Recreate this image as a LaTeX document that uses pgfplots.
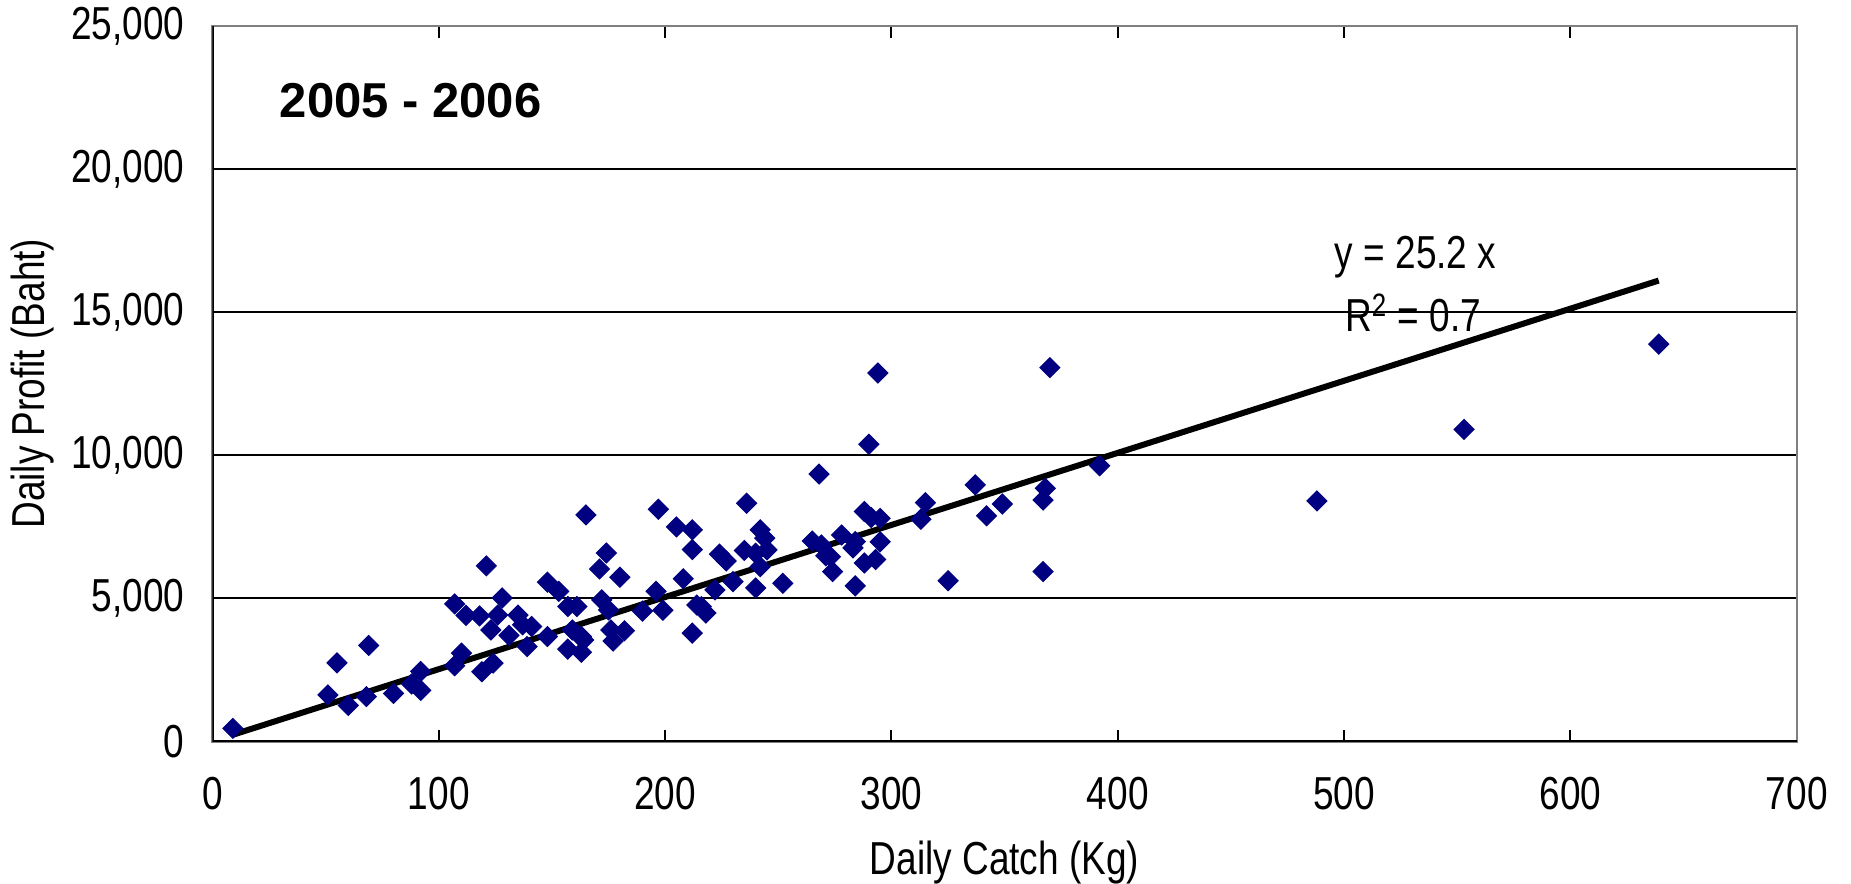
\documentclass[border=0pt]{standalone}
\usepackage{fontspec}
\setmainfont{Liberation Sans}[FakeStretch=0.8]
\newfontfamily\titlefont{Liberation Sans}
\usepackage{pgfplots}
\usepackage{pgfplotstable}
\pgfplotsset{compat=1.18}
\definecolor{navy}{RGB}{0,0,128}
\pgfplotstableread{
x y
9 450
51 1620
55 2740
60 1250
68 1560
69 3350
80 1670
88 2000
92 1780
92 2440
107 4800
107 2640
110 3080
112 4400
118 4380
119 2430
121 6130
123 3890
124 2730
126 4410
128 5010
131 3700
135 4410
137 4070
139 3310
141 4010
148 5560
148 3660
153 5240
157 4710
157 3220
161 4710
159 3890
163 3660
163 3110
164 3540
165 7910
174 6580
171 6020
180 5730
172 4940
175 4590
176 3890
177 3500
182 3860
190 4550
196 5240
197 8110
199 4580
205 7490
208 5680
212 7390
212 6700
212 3780
214 4760
218 4480
216 4705
222 5290
224 6540
227 6300
230 5580
235 6670
236 8320
240 5360
242 7390
244 7100
240 6570
245 6690
242 6100
252 5520
265 7000
268 9340
269 6860
271 6480
273 6450
274 5930
278 7210
283 6760
284 6980
284 5430
288 8030
288 6230
290 10380
291 7820
293 6350
294 12870
295 7790
295 6970
313 7760
315 8340
325 5610
337 8960
342 7880
349 8290
367 8430
368 8840
367 5930
370 13060
392 9630
488 8400
553 10900
639 13880
}\catchdata
\pgfplotstableread{
x y
9 226.8
639 16102.8
}\trenddata
\begin{document}
\begin{tikzpicture}
\useasboundingbox (-85bp,-57.1bp) rectangle (655.4bp,296.5bp);
\begin{axis}[
  at={(0,0)}, anchor=south west,
  scale only axis, width=633.7bp, height=286.1bp,
  xmin=0, xmax=700, ymin=0, ymax=25000,
  xtick={0,100,...,700}, ytick={0,5000,...,25000},
  scaled y ticks=false, scaled x ticks=false,
  /pgf/number format/assume math mode=true,
  /pgf/number format/1000 sep={,},
  ymajorgrids, grid style={black, line width=0.6bp},
  axis line style={draw=gray, line width=1bp},
  tick align=inside,
  xtick style={black, line width=0.8bp}, major tick length=4.7bp,
  ytick style={draw=none},
  tick label style={font=\fontsize{18.5bp}{22bp}\selectfont},
  label style={font=\fontsize{18.5bp}{22bp}\selectfont},
  xticklabel style={anchor=center, yshift=-20.8bp},
  yticklabel style={anchor=east, inner sep=0pt, xshift=-11bp},
  xlabel={Daily Catch (Kg)}, ylabel={Daily Profit (Baht)},
  xlabel style={at={(axis description cs:0.5,-0.17)}, anchor=center},
  ylabel style={at={(axis description cs:-0.1136,0.5)}, anchor=center},
]
\addplot[only marks, mark=square*, mark size=2.83bp, mark options={rotate=45, fill=navy, draw=navy}] table[x=x, y=y] {\catchdata};
\addplot[black, line width=2.4bp, no marks] table[x=x, y=y] {\trenddata};
\draw[black, line width=1.2bp] (axis cs:0,25000) -- (axis cs:0,0) -- (axis cs:700,0);
\node[font=\titlefont\bfseries\fontsize{19.6bp}{23bp}\selectfont] at (axis cs:87.6,22400) {2005 - 2006};
\node[font=\fontsize{18.5bp}{22bp}\selectfont] at (axis cs:531.6,16914) {y = 25.2 x};
\node[font=\fontsize{18.5bp}{22bp}\selectfont] at (axis cs:530.5,14975) {R\textsuperscript{2} = 0.7};
\end{axis}
\end{tikzpicture}
\end{document}
